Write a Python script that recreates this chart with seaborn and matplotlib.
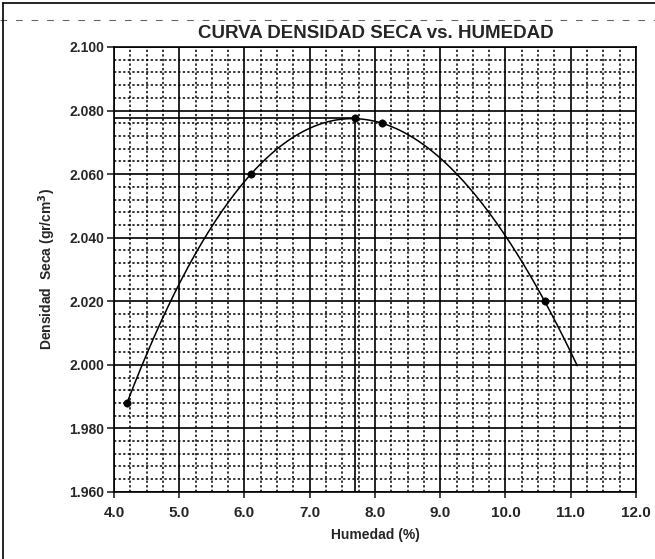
import numpy as np
import pandas as pd
import matplotlib
matplotlib.use("Agg")
import matplotlib.pyplot as plt
import seaborn as sns
from matplotlib.ticker import MultipleLocator, FormatStrFormatter
from matplotlib.lines import Line2D

#%% Data: Proctor points

humedad = [4.2, 6.1, 7.7, 8.1, 10.6]
densidad = [1.988, 2.060, 2.0775, 2.076, 2.020]
curva_fin = 11.1          # trendline stops here
w_opt = 7.7               # optimum moisture
d_max = 2.0775            # max dry density

xticks = [4.0, 5.0, 6.0, 7.0, 8.0, 9.0, 10.0, 11.0, 12.0]
yticks = [1.960, 1.980, 2.000, 2.020, 2.040, 2.060, 2.080, 2.100]

df = pd.DataFrame({"Humedad": humedad, "Densidad": densidad})

# Excel-style polynomial trendline (order 3) fitted to the points
coef = np.polyfit(humedad, densidad, 3)
xc = np.linspace(humedad[0], curva_fin, 200)
curve = pd.DataFrame({"Humedad": xc, "Densidad": np.polyval(coef, xc)})

#%% Plot

sns.set_style("white")
plt.rcParams["font.family"] = ["Liberation Sans", "DejaVu Sans"]

fig = plt.figure(figsize=(6.55, 5.59), dpi=100)
ax = fig.add_axes([0.174, 0.12, 0.797, 0.796])

ax.set_xlim(4.0, 12.0)
ax.set_ylim(1.960, 2.100)
ax.xaxis.set_major_locator(MultipleLocator(1.0))
ax.xaxis.set_minor_locator(MultipleLocator(0.25))
ax.yaxis.set_major_locator(MultipleLocator(0.020))
ax.yaxis.set_minor_locator(MultipleLocator(0.004))
ax.set_xticks(xticks)
ax.set_yticks(yticks)
ax.xaxis.set_major_formatter(FormatStrFormatter("%.1f"))
ax.yaxis.set_major_formatter(FormatStrFormatter("%.3f"))

ax.grid(which="major", color="black", lw=1.2, ls="-")
ax.grid(which="minor", color="black", lw=1.1, ls=(0, (1.5, 1.5)))
ax.set_axisbelow(True)

sns.lineplot(data=curve, x="Humedad", y="Densidad", color="black", lw=1.1, ax=ax, zorder=3)
sns.scatterplot(data=df, x="Humedad", y="Densidad", color="black", s=28, edgecolor="black", ax=ax, zorder=4)

# optimum lines
ax.plot([w_opt, w_opt], [1.960, d_max], color="black", lw=1.2, zorder=3)
ax.plot([4.0, w_opt], [d_max, d_max], color="black", lw=1.2, zorder=3)

for s in ax.spines.values():
    s.set_color("black")
    s.set_linewidth(1.2)

ax.tick_params(axis="y", which="major", direction="out", length=5, width=1.2, left=True,
               labelsize=10, pad=2)
ax.tick_params(axis="x", which="major", direction="out", length=4, width=1.2, bottom=True,
               labelsize=11, pad=6)
ax.tick_params(which="minor", length=0)
for lab in ax.get_xticklabels() + ax.get_yticklabels():
    lab.set_fontweight("bold")

ax.set_xlabel("Humedad (%)", fontsize=10, fontweight="bold", labelpad=6)
ax.set_ylabel("Densidad  Seca (gr/cm$^{\\mathbf{3}}$)", fontsize=10, fontweight="bold", labelpad=8)

fig.text(0.573, 0.94, "CURVA DENSIDAD SECA vs. HUMEDAD", ha="center", va="center",
         fontsize=13.5, fontweight="bold", family=["Liberation Sans Narrow", "Liberation Sans"])

# scan frame
fig.add_artist(Line2D([0.005, 0.005], [0, 0.995], color="black", lw=1.2))
fig.add_artist(Line2D([0.005, 1.0], [0.995, 0.995], color="black", lw=1.2))
fig.add_artist(Line2D([0.0, 1.0], [0.965, 0.965], color="black", lw=0.8, ls=(0, (6, 8)), alpha=0.6))

fig.savefig("out.png", dpi=100)
